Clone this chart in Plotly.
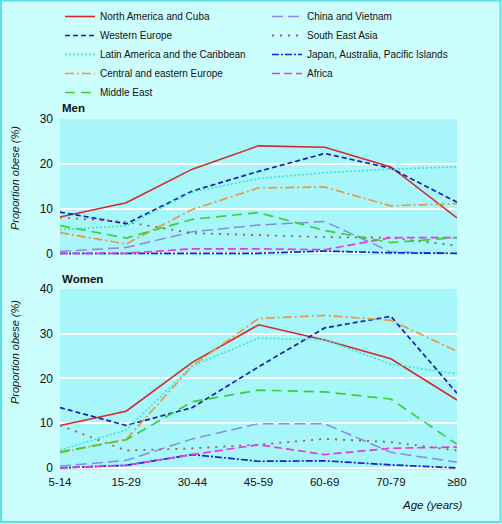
import plotly.graph_objects as go

ages = ["5-14", "15-29", "30-44", "45-59", "60-69", "70-79", "≥80"]

regions = [
    "North America and Cuba",
    "Western Europe",
    "Latin America and the Caribbean",
    "Central and eastern Europe",
    "Middle East",
    "China and Vietnam",
    "South East Asia",
    "Japan, Australia, Pacific Islands",
    "Africa",
]

men_north_america = [8.1, 11.3, 18.8, 24.0, 23.7, 19.3, 7.9]
men_western_europe = [9.2, 6.6, 13.9, 18.3, 22.3, 19.0, 11.4]
men_latin_america = [5.3, 6.1, 13.7, 16.7, 18.0, 18.8, 19.3]
men_central_eastern_europe = [4.6, 2.1, 9.8, 14.6, 14.8, 10.6, 11.1]
men_middle_east = [6.2, 3.4, 7.6, 9.1, 5.1, 2.4, 3.5]
men_china_vietnam = [0.4, 1.3, 4.8, 6.3, 7.1, 0.3, 0.0]
men_south_east_asia = [8.0, 7.0, 4.5, 4.1, 3.6, 3.5, 1.7]
men_japan_australia = [0.0, 0.0, 0.0, 0.0, 0.5, 0.1, 0.0]
men_africa = [0.0, 0.0, 1.0, 1.0, 0.8, 3.5, 3.5]

women_north_america = [9.5, 12.7, 23.6, 32.0, 28.6, 24.4, 15.2]
women_western_europe = [13.5, 9.5, 13.5, 22.6, 31.3, 33.9, 16.7]
women_latin_america = [4.0, 8.5, 22.8, 29.0, 28.7, 23.2, 21.0]
women_central_eastern_europe = [3.4, 6.4, 22.8, 33.4, 34.1, 33.0, 26.1]
women_middle_east = [3.6, 6.3, 14.8, 17.4, 17.0, 15.4, 5.3]
women_china_vietnam = [0.4, 1.7, 6.5, 9.9, 9.9, 3.5, 1.3]
women_south_east_asia = [9.5, 3.9, 4.4, 5.2, 6.5, 5.8, 3.9]
women_japan_australia = [0.0, 0.6, 3.0, 1.5, 1.6, 0.7, 0.0]
women_africa = [0.0, 0.6, 3.0, 5.2, 3.0, 4.4, 4.7]

men = [men_north_america, men_western_europe, men_latin_america,
       men_central_eastern_europe, men_middle_east, men_china_vietnam,
       men_south_east_asia, men_japan_australia, men_africa]
women = [women_north_america, women_western_europe, women_latin_america,
         women_central_eastern_europe, women_middle_east, women_china_vietnam,
         women_south_east_asia, women_japan_australia, women_africa]

colors = ["#d42a2a", "#1c1cb0", "#3ee6c8", "#e59a45", "#3ccf3c",
          "#8a8ae6", "#a55a4a", "#1a22c8", "#e03ce0"]
dashes = ["solid", "5px,3px", "2px,2px", "9px,3px,2px,3px", "10px,6px",
          "11px,5px", "2px,6px", "7px,2px,2px,2px", "8px,4px"]
widths = [1.6, 1.7, 1.6, 1.7, 1.7, 1.5, 1.8, 1.7, 1.7]

# legend reading order is row-wise in a horizontal legend: interleave columns
legend_order = [0, 5, 1, 6, 2, 7, 3, 8, 4]

fig = go.Figure()
for i in legend_order:
    fig.add_trace(go.Scatter(
        x=ages, y=men[i], mode="lines", name=regions[i],
        line=dict(color=colors[i], dash=dashes[i], width=widths[i]),
        xaxis="x", yaxis="y", legendgroup=regions[i], showlegend=True))
for i in legend_order:
    fig.add_trace(go.Scatter(
        x=ages, y=women[i], mode="lines", name=regions[i],
        line=dict(color=colors[i], dash=dashes[i], width=widths[i]),
        xaxis="x2", yaxis="y2", legendgroup=regions[i], showlegend=False))

W, H = 502, 524
BG = "#ccfefe"
x0, x1 = 60 / W, 457 / W
font = "Liberation Sans, Arial, sans-serif"
grid = dict(showgrid=True, gridcolor="white", gridwidth=1.5, zeroline=False,
            showline=False, ticks="", tickfont=dict(size=12, color="#111"),
            ticklabelstandoff=6, automargin=False)

fig.update_layout(
    width=W, height=H,
    margin=dict(l=0, r=0, t=0, b=0, autoexpand=False),
    paper_bgcolor=BG,
    plot_bgcolor="#a6f6fa",
    font=dict(family=font, size=12, color="#111"),
    xaxis=dict(domain=[x0, x1], anchor="y", range=[0, 6], showticklabels=False,
               showgrid=False, zeroline=False, ticks="", type="category",
               automargin=False),
    yaxis=dict(domain=[1 - 255 / H, 1 - 119 / H], anchor="x", range=[-0.38, 30],
               tickvals=[0, 10, 20, 30], **grid),
    xaxis2=dict(domain=[x0, x1], anchor="y2", range=[0, 6], showgrid=False,
                zeroline=False, ticks="", type="category", automargin=False,
                tickfont=dict(size=11.5, color="#111"), ticklabelstandoff=3),
    yaxis2=dict(domain=[1 - 470 / H, 1 - 289 / H], anchor="x2", range=[-0.45, 40],
                tickvals=[0, 10, 20, 30, 40], **grid),
    legend=dict(orientation="h", x=60 / W, xanchor="left", y=1 - 2 / H,
                yanchor="top", bgcolor="rgba(0,0,0,0)",
                font=dict(size=10, family=font, color="#111"),
                entrywidth=162, entrywidthmode="pixels", itemwidth=30,
                traceorder="normal"),
    showlegend=True,
    hovermode=False,
)

annos = [
    dict(text="<b>Men</b>", x=x0, y=1 - 108 / H, xanchor="left", yanchor="middle",
         font=dict(size=11.5)),
    dict(text="<b>Women</b>", x=x0, y=1 - 279 / H, xanchor="left", yanchor="middle",
         font=dict(size=11.5)),
    dict(text="<i>Proportion obese (%)</i>", x=15 / W, y=1 - 178 / H, textangle=-90,
         xanchor="center", yanchor="middle", font=dict(size=11)),
    dict(text="<i>Proportion obese (%)</i>", x=15 / W, y=1 - 352 / H, textangle=-90,
         xanchor="center", yanchor="middle", font=dict(size=11)),
    dict(text="<i>Age (years)</i>", x=465 / W, y=1 - 505 / H, xanchor="right",
         yanchor="middle", font=dict(size=11.5)),
]
for a in annos:
    a.update(xref="paper", yref="paper", showarrow=False)
    fig.add_annotation(**a)

fig.add_shape(type="rect", xref="paper", yref="paper", x0=1 / W, x1=1 - 1.5 / W,
              y0=2 / H, y1=1 - 0.5 / H, line=dict(color="#5ee0e6", width=2),
              fillcolor="rgba(0,0,0,0)", layer="below")

fig.write_html(
    "out.html",
    config={"displayModeBar": False},
    post_script="document.body.style.margin='0';"
                "document.body.style.background='" + BG + "';",
)
